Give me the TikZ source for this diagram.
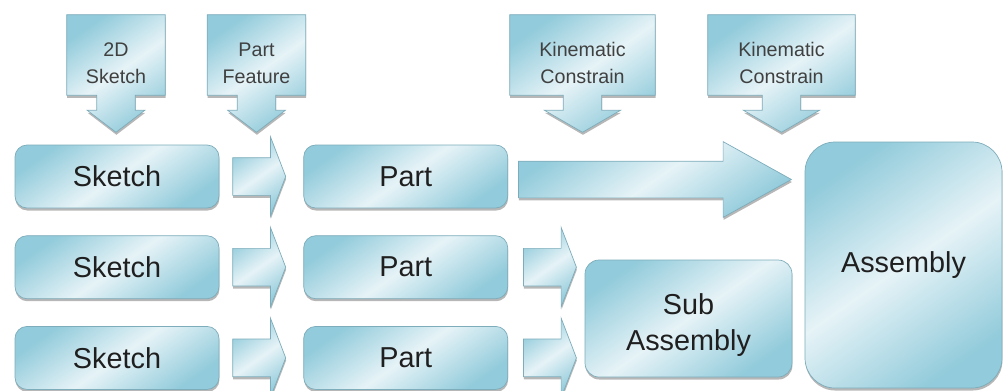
\documentclass[tikz,border=0pt]{standalone}
\usepackage{fontspec}
\setmainfont{Liberation Sans}
\usetikzlibrary{positioning,shapes.arrows,shadows,calc,backgrounds}

\definecolor{boxdark}{RGB}{146,203,219}
\definecolor{boxlight}{RGB}{230,243,247}
\definecolor{boxline}{RGB}{125,172,186}

\tikzset{
  blue fill/.style={draw=boxline, line width=0.5pt,
    top color=boxdark, bottom color=boxdark, middle color=boxlight, shading angle=35,
    drop shadow={shadow xshift=0.3pt, shadow yshift=-1.8pt, opacity=0.4, fill=black!70}},
  stage/.style={blue fill, rounded corners=0.3cm, minimum width=5.1cm, minimum height=1.575cm,
    font=\fontsize{20.5}{26}\selectfont, text=black!88},
  callbox/.style={minimum width=2.45cm, minimum height=2cm, align=center, text height=40pt,
    font=\fontsize{14}{19}\selectfont, text=black!75},
  flow/.style={blue fill, single arrow, inner sep=0pt, minimum width=0pt, anchor=tail},
  short flow/.style={flow, inner ysep=0.4625cm, single arrow head extend=0.525cm,
    minimum height=1.325cm, single arrow tip angle=138},
}

\begin{document}
\begin{tikzpicture}

    \useasboundingbox (0,0) rectangle (25.15,-9.75);

    % sketches and parts
    \node[stage] (sk1) at (2.925,-4.4125) {Sketch};
    \node[stage, below=0.675cm of sk1] (sk2) {Sketch};
    \node[stage, below=0.675cm of sk2] (sk3) {Sketch};

    \node[stage, right=2.1cm of sk1] (pt1) {Part};
    \node[stage, right=2.1cm of sk2] (pt2) {Part};
    \node[stage, right=2.1cm of sk3] (pt3) {Part};

    % assemblies
    \node[stage, minimum width=5.175cm, minimum height=2.925cm, rounded corners=0.35cm,
      align=center, text height=50pt] (sub) at (17.2125,-7.9625) {Sub\\Assembly};
    \node[stage, minimum width=4.925cm, minimum height=6.15cm, rounded corners=0.75cm]
      (asm) at (22.5875,-6.625) {Assembly};

    % block arrows
    \node[short flow] (f1) at ($(sk1.east)+(0.325,0)$) {};
    \node[short flow] (f2) at ($(sk2.east)+(0.325,0)$) {};
    \node[short flow] (f3) at ($(sk3.east)+(0.325,0)$) {};

    \node[flow, inner ysep=0.45cm, single arrow head extend=0.4875cm, minimum height=6.825cm,
      single arrow tip angle=58] (g1) at ($(pt1.east)+(0.25,-0.075)$) {};
    \node[short flow] (g2) at ($(pt2.east)+(0.375,0)$) {};
    \node[short flow] (g3) at ($(pt3.east)+(0.375,0)$) {};

    % callouts
    \node[callbox] (ca) at (2.9,-1.375) {2D\\Sketch};
    \node[callbox] (cb) at (6.4125,-1.375) {Part\\Feature};
    \node[callbox, minimum width=3.625cm] (cc) at (14.5625,-1.375) {Kinematic\\Constrain};
    \node[callbox, minimum width=3.675cm] (cd) at (19.5375,-1.375) {Kinematic\\Constrain};

    \begin{scope}[on background layer]
      \foreach \c/\h in {ca/0.72, cb/0.72, cc/0.95, cd/0.95}
        \path[blue fill] (\c.north west) -- (\c.north east) -- (\c.south east)
          -- ([xshift=0.48cm]\c.south) -- ([xshift=0.48cm, yshift=-0.375cm]\c.south)
          -- ([xshift=\h cm, yshift=-0.375cm]\c.south) -- ([yshift=-0.925cm]\c.south)
          -- ([xshift=-\h cm, yshift=-0.375cm]\c.south) -- ([xshift=-0.48cm, yshift=-0.375cm]\c.south)
          -- ([xshift=-0.48cm]\c.south) -- (\c.south west) -- cycle;
    \end{scope}

\end{tikzpicture}
\end{document}
